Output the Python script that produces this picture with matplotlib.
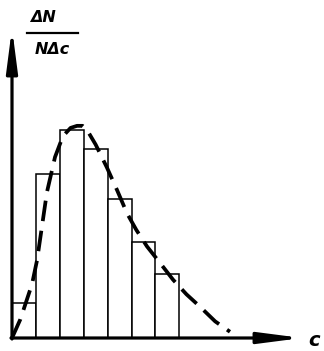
import numpy as np
import matplotlib.pyplot as plt

# histogram bins (unit width) and relative heights
bin_left = [0, 1, 2, 3, 4, 5, 6]
heights = [0.17, 0.79, 1.0, 0.91, 0.67, 0.46, 0.31]

# dashed smooth distribution curve
curve_x = [0.0, 0.35, 0.84, 1.05, 1.46, 1.8, 2.13, 2.45, 2.72, 2.95, 3.14, 3.5, 3.97, 4.4, 4.81, 5.2, 5.65, 6.2, 6.74, 7.3, 7.87, 8.5, 9.12]
curve_y = [0.0, 0.09, 0.26, 0.375, 0.70, 0.87, 0.97, 1.01, 1.02, 1.02, 1.0, 0.93, 0.82, 0.71, 0.60, 0.52, 0.44, 0.36, 0.28, 0.21, 0.15, 0.08, 0.03]

W, H = 324, 351
fig = plt.figure(figsize=(W / 100, H / 100), dpi=100)
ax = fig.add_axes([0, 0, 1, 1])
ax.axis('off')

# map: x=0 at 12px, 23.9 px per bin; y=0 at 338px from top, 208 px per unit
sx, sy = 23.9, 208.0
x0, y0 = 12, H - 338
ax.set_xlim(-x0 / sx, (W - x0) / sx)
ax.set_ylim(-y0 / sy, (H - y0) / sy)

ax.bar(bin_left, heights, width=1, align='edge', color='white',
       edgecolor='black', linewidth=1.1, zorder=2)

ax.plot(curve_x, curve_y, color='black', lw=2.7, dashes=(5.5, 2.6),
        solid_capstyle='butt', zorder=3)

def px(x, y):
    return x / W, 1 - y / H

# axes with arrows
arrow = dict(arrowstyle='-|>,head_length=1.7,head_width=0.22', lw=2.3,
             color='black', mutation_scale=15, shrinkA=0, shrinkB=0)
ax.annotate('', xy=px(12, 28), xytext=px(12, 339), xycoords='axes fraction',
            textcoords='axes fraction', arrowprops=arrow, zorder=4)
ax.annotate('', xy=px(302, 338), xytext=px(11, 338), xycoords='axes fraction',
            textcoords='axes fraction', arrowprops=arrow, zorder=4)

# labels
font = dict(fontweight='bold', fontstyle='italic', color='black', transform=ax.transAxes)
ax.text(*px(43, 18), 'ΔN', ha='center', va='center', fontsize=11.5, **font)
ax.plot([27 / W, 78 / W], [1 - 33 / H, 1 - 33 / H], color='black', lw=1.6,
        transform=ax.transAxes)
ax.text(*px(52, 49), 'NΔc', ha='center', va='center', fontsize=11.5, **font)
ax.text(*px(314, 340), 'c', ha='center', va='center', fontsize=14, **font)

fig.savefig('out.png', dpi=100)
